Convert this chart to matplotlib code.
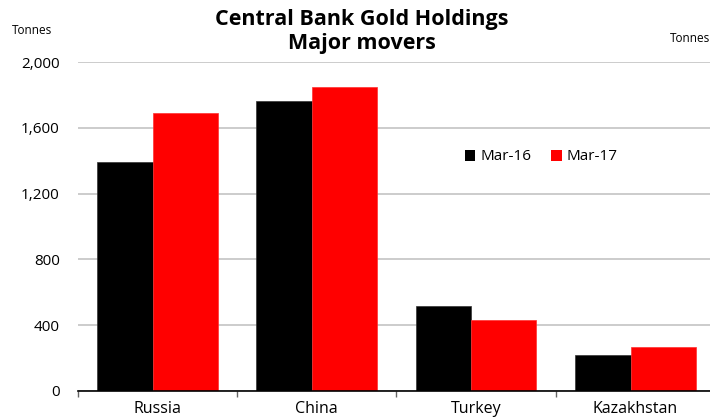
import numpy as np
import matplotlib
matplotlib.use("Agg")
import matplotlib.pyplot as plt
from matplotlib.patches import Patch

countries = ["Russia", "China", "Turkey", "Kazakhstan"]
mar16 = [1392, 1763, 517, 219]
mar17 = [1690, 1848, 432, 268]
yticks = [0, 400, 800, 1200, 1600, 2000]

plt.rcParams["font.family"] = ["Open Sans", "DejaVu Sans"]

W, H = 710, 418
fig = plt.figure(figsize=(W / 100, H / 100), dpi=100)
# axes spans a bit past the right edge, as in the original
x0, x1, yb, yt = 77.7, 715.0, 391.0, 62.0
ax = fig.add_axes([x0 / W, (H - yb) / H, (x1 - x0) / W, (yb - yt) / H])

x = np.arange(len(countries))
ax.bar(x - 0.378, mar16, width=0.349, align="edge", color="black",
       edgecolor="#333333", linewidth=0.5, zorder=3, label="Mar-16")
ax.bar(x - 0.029, mar17, width=0.407, align="edge", color="#ff0000",
       edgecolor="#ff3030", linewidth=0.5, zorder=3, label="Mar-17")

ax.set_xlim(-0.5, len(countries) - 0.5)
ax.set_ylim(0, 2000)
ax.set_yticks(yticks)
ax.set_yticklabels([f"{v:,}" for v in yticks], fontsize=11)
ax.yaxis.grid(True, color="#c4c4c4", linewidth=1.2, zorder=0)
ax.tick_params(axis="y", length=0, pad=13)

ax.set_xticks(x)
ax.set_xticklabels(countries, fontsize=11.5)
ax.set_xticks(np.arange(len(countries) + 1) - 0.5, minor=True)
ax.tick_params(axis="x", which="major", length=0, pad=7)
ax.tick_params(axis="x", which="minor", length=4, width=1, color="#666666")

for s in ["left", "right", "top"]:
    ax.spines[s].set_visible(False)
ax.spines["bottom"].set_color("black")
ax.spines["bottom"].set_linewidth(1.2)
ax.spines["bottom"].set_zorder(4)

fig.text(362 / W, 1 - 19 / H, "Central Bank Gold Holdings", ha="center", va="center",
         fontsize=15.5, fontweight="bold")
fig.text(362 / W, 1 - 43 / H, "Major movers", ha="center", va="center",
         fontsize=15.5, fontweight="bold")
fig.text(12 / W, 1 - 31 / H, "Tonnes", ha="left", va="center", fontsize=8.5)
fig.text(710 / W, 1 - 39 / H, "Tonnes", ha="right", va="center", fontsize=8.5)

handles = [Patch(facecolor="black", label="Mar-16"), Patch(facecolor="#ff0000", label="Mar-17")]
fig.legend(handles=handles, loc="center left", bbox_to_anchor=(451 / W, 1 - 157 / H),
           ncol=2, frameon=False, fontsize=11, handlelength=0.7, handleheight=0.7,
           handletextpad=0.3, columnspacing=1.3)

fig.savefig("out.png", dpi=100)
